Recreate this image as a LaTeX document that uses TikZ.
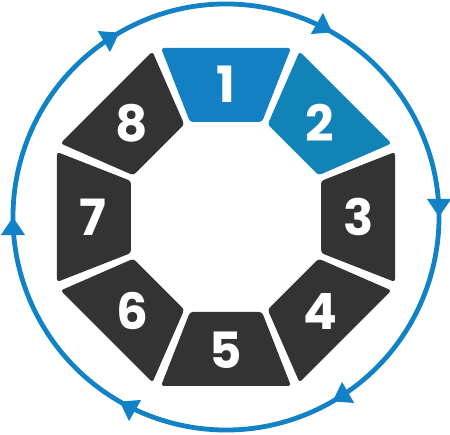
\documentclass[tikz,border=0pt]{standalone}
\usepackage{fontspec}
\setsansfont{Poppins}
\usetikzlibrary{arrows.meta, decorations.markings}
\definecolor{ringblue}{HTML}{1282C6}
\definecolor{segblue}{HTML}{1380C4}
\definecolor{segteal}{HTML}{1283B6}
\definecolor{segdark}{HTML}{333333}

\begin{document}
\begin{tikzpicture}[x=1pt, y=1pt,
  seg/.style={rounded corners=3pt},
  num/.style={text=white, inner sep=0pt, font=\sffamily\bfseries\fontsize{50}{50}\selectfont},
  cycle arrows/.style={postaction={decorate}, decoration={markings,
      mark=between positions 1/12 and 1 step 1/6 with {\arrow{Triangle[length=18pt, width=23pt]}}}}]
  \useasboundingbox (-226,-218) rectangle (224,217);
  % outer cycle, drawn clockwise
  \draw[ringblue, line width=4.8pt, cycle arrows]
    (30:213) arc[start angle=30, end angle=-330, radius=213];
  % eight pieces of the octagon ring
  \foreach \i/\col in {1/segblue, 2/segteal, 3/segdark, 4/segdark,
                       5/segdark, 6/segdark, 7/segdark, 8/segdark}{
    \fill[\col, seg, rotate=-45*(\i-1)]
      (-65,169) -- (65,169) -- (36,95) -- (-36,95) -- cycle;
    \node[num] (n\i) at ({90-45*(\i-1)}:133) {\i};
  }
\end{tikzpicture}
\end{document}
